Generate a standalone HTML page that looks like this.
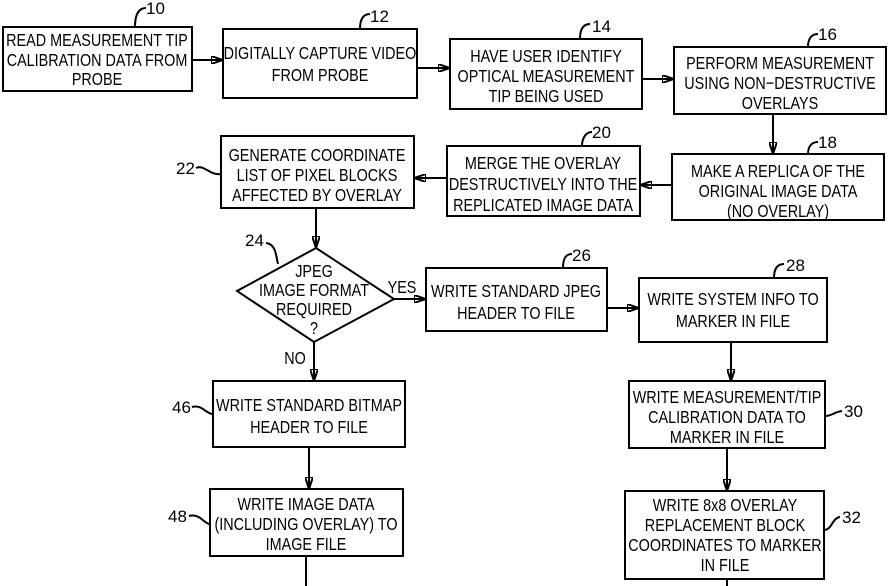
<!DOCTYPE html>
<html><head><meta charset="utf-8"><style>
html,body{margin:0;padding:0;background:#fff;}
svg{display:block;}
text{font-family:"Liberation Sans",sans-serif;font-size:18px;fill:#000;text-anchor:middle;transform-box:fill-box;transform-origin:center;transform:scaleX(0.8);}
.n{font-size:17px;text-anchor:start;transform:none;}
rect,polygon{fill:none;stroke:#000;stroke-width:2;}
line,path{stroke:#000;stroke-width:2;fill:none;}
</style></head><body>
<svg width="889" height="586" viewBox="0 0 889 586" xmlns="http://www.w3.org/2000/svg">
<defs><marker id="a" markerWidth="12" markerHeight="8" refX="11" refY="4" orient="auto" markerUnits="userSpaceOnUse"><path d="M0,0 L12,4 L0,8 Z" fill="#000" stroke="none"/></marker></defs>

<rect x="3" y="27" width="189" height="64"/>
<text x="97" y="46">READ MEASUREMENT TIP</text>
<text x="97" y="66">CALIBRATION DATA FROM</text>
<text x="97" y="85">PROBE</text>
<path d="M135,27 C135,12 140,8 146,8"/><text class="n" x="146" y="14">10</text>

<rect x="223" y="29" width="194" height="69"/>
<text x="320" y="59">DIGITALLY CAPTURE VIDEO</text>
<text x="320" y="81">FROM PROBE</text>
<path d="M360,29 C360,18 364,14 370,14"/><text class="n" x="370" y="22">12</text>

<rect x="450" y="39" width="192" height="70"/>
<text x="546" y="62">HAVE USER IDENTIFY</text>
<text x="546" y="82">OPTICAL MEASUREMENT</text>
<text x="546" y="102">TIP BEING USED</text>
<path d="M580,39 C580,28 584,24 590,24"/><text class="n" x="592" y="32">14</text>

<rect x="674" y="47" width="212" height="67"/>
<text x="780" y="69">PERFORM MEASUREMENT</text>
<text x="780" y="89">USING NON−DESTRUCTIVE</text>
<text x="780" y="109">OVERLAYS</text>
<path d="M808,47 C808,38 812,34 818,34"/><text class="n" x="818" y="40">16</text>

<rect x="672" y="154" width="212" height="66"/>
<text x="778" y="177">MAKE A REPLICA OF THE</text>
<text x="778" y="197">ORIGINAL IMAGE DATA</text>
<text x="778" y="217">(NO OVERLAY)</text>
<path d="M808,154 C808,146 812,142 818,142"/><text class="n" x="818" y="148">18</text>

<rect x="447" y="146" width="193" height="70"/>
<text x="543" y="169">MERGE THE OVERLAY</text>
<text x="543" y="190">DESTRUCTIVELY INTO THE</text>
<text x="543" y="211">REPLICATED IMAGE DATA</text>
<path d="M582,146 C582,138 586,132 592,132"/><text class="n" x="592" y="138">20</text>

<rect x="221" y="136" width="193" height="72"/>
<text x="317" y="161">GENERATE COORDINATE</text>
<text x="317" y="181">LIST OF PIXEL BLOCKS</text>
<text x="317" y="201">AFFECTED BY OVERLAY</text>
<text class="n" x="176" y="174">22</text><path d="M196,168 C204,164 210,176 221,174"/>

<polygon points="316,248 394,299 314,342 237,291"/>
<text x="314" y="277">JPEG</text>
<text x="314" y="296">IMAGE FORMAT</text>
<text x="314" y="315">REQUIRED</text>
<text x="314" y="334">?</text>
<text class="n" x="245" y="246">24</text><path d="M266,243 C276,244 276,256 278,264"/>
<text x="402" y="293">YES</text>
<text x="295" y="364">NO</text>

<rect x="426" y="268" width="181" height="63"/>
<text x="516" y="297">WRITE STANDARD JPEG</text>
<text x="516" y="319">HEADER TO FILE</text>
<path d="M563,268 C563,258 566,254 572,254"/><text class="n" x="572" y="261">26</text>

<rect x="639" y="278" width="188" height="64"/>
<text x="733" y="305">WRITE SYSTEM INFO TO</text>
<text x="733" y="327">MARKER IN FILE</text>
<path d="M774,278 C774,268 778,264 784,264"/><text class="n" x="786" y="271">28</text>

<rect x="213" y="381" width="192" height="66"/>
<text x="309" y="411">WRITE STANDARD BITMAP</text>
<text x="309" y="433">HEADER TO FILE</text>
<text class="n" x="172" y="413">46</text><path d="M192,407 C202,404 206,414 213,414"/>

<rect x="629" y="381" width="196" height="67"/>
<text x="727" y="403">WRITE MEASUREMENT/TIP</text>
<text x="727" y="423">CALIBRATION DATA TO</text>
<text x="727" y="443">MARKER IN FILE</text>
<text class="n" x="844" y="417">30</text><path d="M825,416 C832,416 834,412 842,411"/>

<rect x="210" y="489" width="193" height="67"/>
<text x="306" y="510">WRITE IMAGE DATA</text>
<text x="306" y="530">(INCLUDING OVERLAY) TO</text>
<text x="306" y="550">IMAGE FILE</text>
<text class="n" x="168" y="522">48</text><path d="M189,516 C200,513 204,524 210,524"/>

<rect x="625" y="491" width="199" height="88"/>
<text x="725" y="511">WRITE 8x8 OVERLAY</text>
<text x="725" y="531">REPLACEMENT BLOCK</text>
<text x="725" y="551">COORDINATES TO MARKER</text>
<text x="725" y="571">IN FILE</text>
<text class="n" x="842" y="523">32</text><path d="M824,530 C832,530 832,518 840,517"/>

<line x1="192" y1="60" x2="222" y2="60" marker-end="url(#a)"/>
<line x1="417" y1="68" x2="449" y2="68" marker-end="url(#a)"/>
<line x1="642" y1="79" x2="673" y2="79" marker-end="url(#a)"/>
<line x1="773" y1="114" x2="773" y2="153" marker-end="url(#a)"/>
<line x1="672" y1="185" x2="641" y2="185" marker-end="url(#a)"/>
<line x1="447" y1="178" x2="415" y2="178" marker-end="url(#a)"/>
<line x1="316" y1="208" x2="316" y2="247" marker-end="url(#a)"/>
<line x1="394" y1="299" x2="425" y2="299" marker-end="url(#a)"/>
<line x1="607" y1="308" x2="638" y2="308" marker-end="url(#a)"/>
<line x1="314" y1="342" x2="314" y2="380" marker-end="url(#a)"/>
<line x1="731" y1="342" x2="731" y2="380" marker-end="url(#a)"/>
<line x1="309" y1="447" x2="309" y2="488" marker-end="url(#a)"/>
<line x1="727" y1="448" x2="727" y2="490" marker-end="url(#a)"/>
<line x1="306" y1="556" x2="306" y2="586"/>
<line x1="727" y1="579" x2="727" y2="586"/>
</svg>
</body></html>
